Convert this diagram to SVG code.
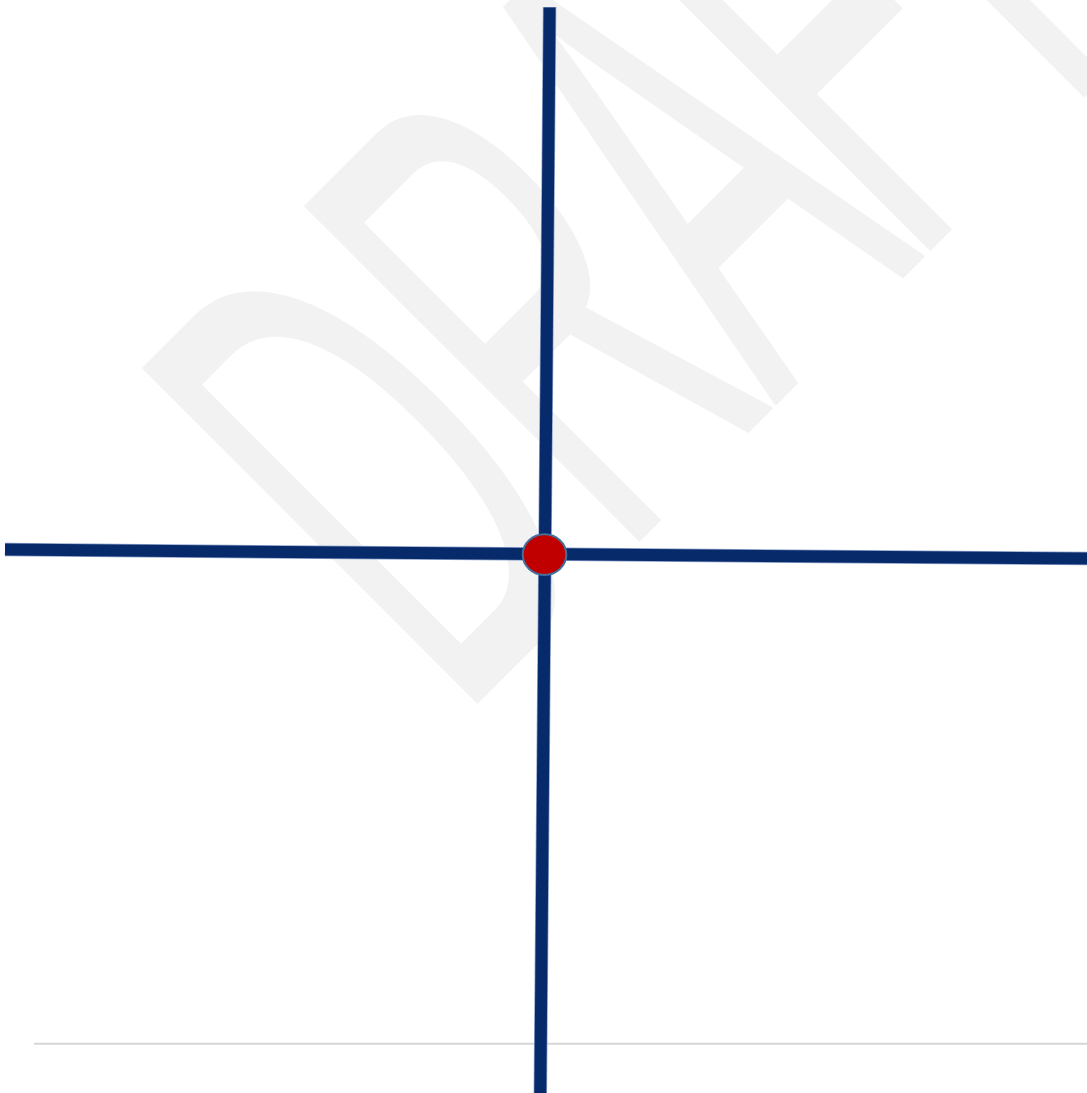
<svg xmlns="http://www.w3.org/2000/svg" width="1087" height="1093" viewBox="0 0 1087 1093">
  <style>
    .wm { font-family: "Liberation Sans", Arial, sans-serif; font-size: 686px; fill: #f2f2f2; stroke: #f2f2f2; stroke-width: 3; stroke-linejoin: round; }
    .edge { stroke: #8fa3cc; stroke-width: 13.5; fill: none; }
    .bar { stroke: #072a6b; stroke-width: 12; fill: none; }
    .dot { fill: #c00000; stroke: #41719c; stroke-width: 2; }
  </style>
  <rect width="1087" height="1093" fill="#ffffff"/>
  <g id="watermark">
    <text class="wm" transform="rotate(-45) scale(0.461,1)" x="-402 95 568 987 1337" y="834">DRAFT</text>
  </g>
  <g id="footer-rule">
    <line x1="34" y1="1043.8" x2="1087" y2="1043.8" stroke="#d6d6d6" stroke-width="2"/>
  </g>
  <g id="connectors">
    <line class="edge" x1="5" y1="549.6" x2="1087" y2="558.6"/>
    <line class="edge" x1="549.6" y1="7" x2="540.3" y2="1093"/>
    <line class="bar" x1="5" y1="549.6" x2="1087" y2="558.6"/>
    <line class="bar" x1="549.6" y1="7.5" x2="540.3" y2="1093"/>
  </g>
  <g id="node-center">
    <ellipse class="dot" cx="544.5" cy="554.6" rx="21.8" ry="20.3"/>
  </g>
</svg>
